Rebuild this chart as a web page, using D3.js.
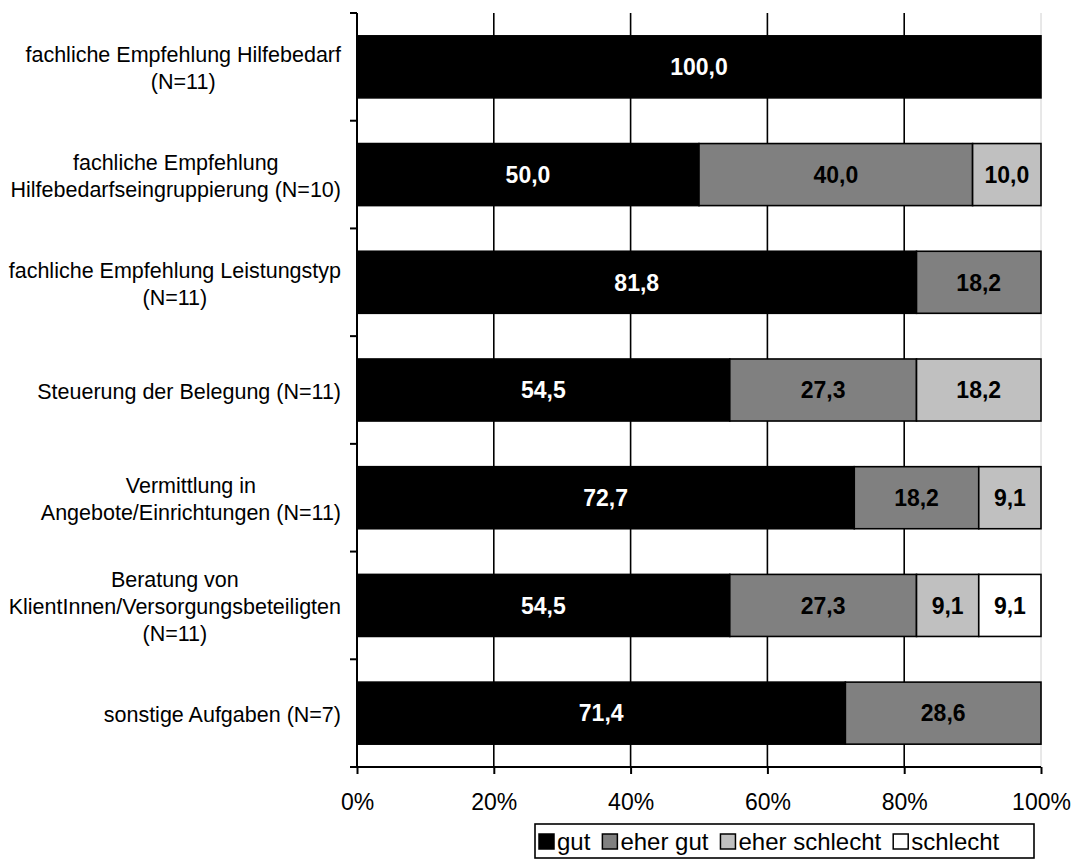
<!DOCTYPE html>
<html>
<head>
<meta charset="utf-8">
<script src="https://cdn.jsdelivr.net/npm/d3@7"></script>
<style>
  html, body { margin: 0; padding: 0; background: #fff; }
  svg { display: block; font-family: "Liberation Sans", Arial, sans-serif; }
</style>
</head>
<body>
<svg id="chart" width="1073" height="862"></svg>
<script>
// Category labels (one entry per line of the label)
const categories = [
  ["fachliche Empfehlung Hilfebedarf", "(N=11)"],
  ["fachliche Empfehlung", "Hilfebedarfseingruppierung (N=10)"],
  ["fachliche Empfehlung Leistungstyp", "(N=11)"],
  ["Steuerung der Belegung (N=11)"],
  ["Vermittlung in", "Angebote/Einrichtungen (N=11)"],
  ["Beratung von", "KlientInnen/Versorgungsbeteiligten", "(N=11)"],
  ["sonstige Aufgaben (N=7)"]
];

// Shares in percent per rating
const gut          = [100.0, 50.0, 81.8, 54.5, 72.7, 54.5, 71.4];
const eherGut      = [0,     40.0, 18.2, 27.3, 18.2, 27.3, 28.6];
const eherSchlecht = [0,     10.0, 0,    18.2, 9.1,  9.1,  0];
const schlecht     = [0,     0,    0,    0,    0,    9.1,  0];

const seriesNames = ["gut", "eher gut", "eher schlecht", "schlecht"];
const seriesColors = ["#000000", "#808080", "#c0c0c0", "#ffffff"];
const labelColors = ["#ffffff", "#000000", "#000000", "#000000"];
const xTicks = [0, 20, 40, 60, 80, 100];

const svg = d3.select("#chart");
const plotLeft = 357, plotRight = 1041, plotTop = 13, plotBottom = 767;

const x = d3.scaleLinear().domain([0, 100]).range([plotLeft, plotRight]);
const y = d3.scaleBand().domain(d3.range(categories.length))
  .range([plotTop, plotBottom]).paddingInner(0.424).paddingOuter(0.212);

// Stacked data
const rows = categories.map((c, i) => ({
  i, gut: gut[i], "eher gut": eherGut[i], "eher schlecht": eherSchlecht[i], schlecht: schlecht[i]
}));
const stacked = d3.stack().keys(seriesNames)(rows);

// Vertical gridlines
svg.append("g").selectAll("line").data(xTicks.filter(t => t > 0)).join("line")
  .attr("x1", d => x(d)).attr("x2", d => x(d))
  .attr("y1", plotTop).attr("y2", plotBottom)
  .attr("stroke", d => d === 100 ? "#d0d0d0" : "#000")
  .attr("stroke-width", d => d === 100 ? 1 : 1.6);

// Bars
const barG = svg.append("g");
stacked.forEach((s, k) => {
  barG.append("g").selectAll("rect").data(s.filter(d => d[1] - d[0] > 0)).join("rect")
    .attr("x", d => x(d[0]))
    .attr("y", d => y(d.data.i))
    .attr("width", d => x(d[1]) - x(d[0]))
    .attr("height", y.bandwidth())
    .attr("fill", seriesColors[k])
    .attr("stroke", "#000")
    .attr("stroke-width", 1.6);
});

// Value labels
stacked.forEach((s, k) => {
  svg.append("g").selectAll("text").data(s.filter(d => d[1] - d[0] > 0)).join("text")
    .attr("x", d => (x(d[0]) + x(d[1])) / 2)
    .attr("y", d => y(d.data.i) + y.bandwidth() / 2)
    .attr("dy", "0.36em")
    .attr("text-anchor", "middle")
    .attr("font-size", 23)
    .attr("font-weight", "bold")
    .attr("fill", labelColors[k])
    .text(d => d3.format(".1f")(d[1] - d[0]).replace(".", ","));
});

// Y axis line with ticks between categories
svg.append("line").attr("x1", plotLeft).attr("x2", plotLeft).attr("y1", plotTop).attr("y2", plotBottom)
  .attr("stroke", "#000").attr("stroke-width", 2);
const boundaries = d3.range(categories.length + 1).map(i => plotTop + i * y.step());
svg.append("g").selectAll("line").data(boundaries).join("line")
  .attr("x1", plotLeft - 7).attr("x2", plotLeft).attr("y1", d => d).attr("y2", d => d)
  .attr("stroke", "#000").attr("stroke-width", 2);

// X axis
const xAxis = d3.axisBottom(x).tickValues(xTicks).tickSize(7).tickPadding(20)
  .tickFormat(d => d + "%");
const xg = svg.append("g").attr("transform", `translate(0,${plotBottom})`).call(xAxis);
xg.select(".domain").attr("stroke-width", 2).attr("d", `M${plotLeft - 7},0H${plotRight}`);
xg.selectAll(".tick line").attr("stroke-width", 2);
xg.selectAll("text").attr("font-size", 23).attr("font-family", "Liberation Sans, Arial, sans-serif")
  .attr("fill", "#000");

// Category labels: block right-aligned to the axis, lines centred within the block
const labelRight = 341, lineH = 27, catFont = 21.5;
const catG = svg.append("g").attr("font-size", catFont).attr("fill", "#000");
categories.forEach((lines, i) => {
  const g = catG.append("g");
  const texts = lines.map(l => g.append("text").text(l));
  const widths = texts.map(t => t.node().getComputedTextLength());
  const blockW = d3.max(widths);
  const cx = labelRight - blockW / 2;
  const cy = y(i) + y.bandwidth() / 2 + 1;
  texts.forEach((t, j) => {
    t.attr("x", cx).attr("text-anchor", "middle")
      .attr("y", cy + (j - (lines.length - 1) / 2) * lineH)
      .attr("dy", "0.36em");
  });
});

// Legend
const legend = svg.append("g");
legend.append("rect").attr("x", 535).attr("y", 824).attr("width", 499).attr("height", 34)
  .attr("fill", "#fff").attr("stroke", "#000").attr("stroke-width", 1.6);
let lx = 539;
seriesNames.forEach((name, k) => {
  legend.append("rect").attr("x", lx).attr("y", 834).attr("width", 15).attr("height", 15)
    .attr("fill", seriesColors[k]).attr("stroke", "#000").attr("stroke-width", 1.5);
  const t = legend.append("text").attr("x", lx + 18).attr("y", 850)
    .attr("font-size", 24).text(name);
  lx += 18 + t.node().getComputedTextLength() + 12;
});
</script>
</body>
</html>
